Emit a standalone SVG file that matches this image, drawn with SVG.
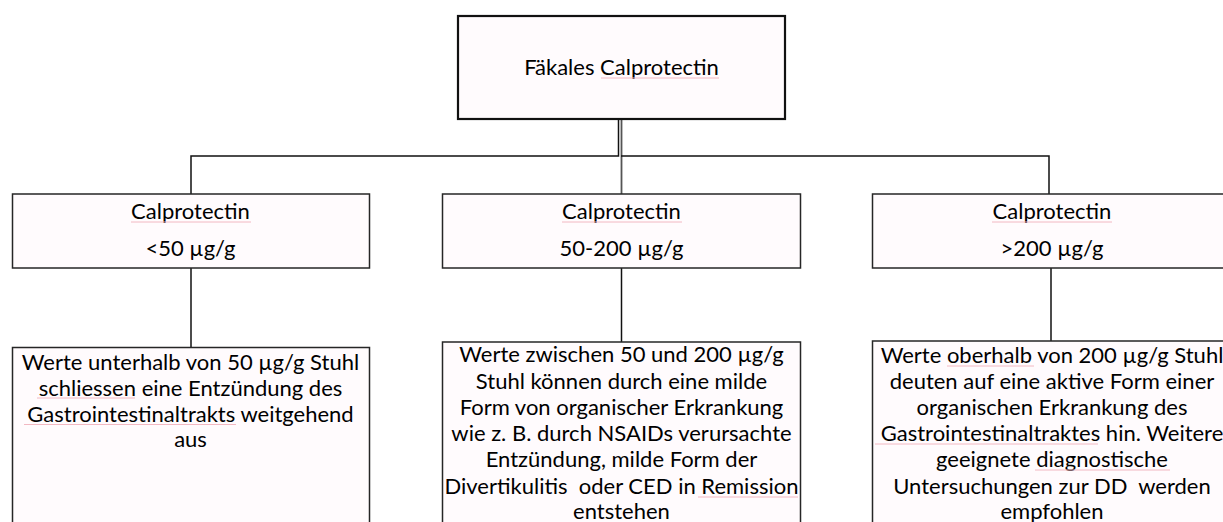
<svg xmlns="http://www.w3.org/2000/svg" width="1223" height="522" viewBox="0 0 1223 522">
<style>
.box{fill:#fffbfd;stroke:#262626;stroke-width:1.5}
.top{fill:#fffbfd;stroke:#111;stroke-width:2.2}
.t{font-family:Lato,"Liberation Sans",sans-serif;font-size:22px;fill:#000;text-anchor:middle}
.c{fill:none;stroke:#111;stroke-width:1.5}
.cg{fill:none;stroke:#555;stroke-width:1.8}
.sp{fill:none;stroke:#f2b8c2;stroke-width:1}
</style>
<rect width="1223" height="522" fill="#fff"/>
<g id="connectors">
<path class="c" d="M618.5 120 V156 H191 V194"/>
<path class="cg" d="M621.5 120 V194"/>
<path class="c" d="M621 156 H1049 V194"/>
<path class="c" d="M191 268 V347.5"/>
<path class="c" d="M621.5 268 V342"/>
<path class="c" d="M1051 268 V341"/>
</g>
<g id="root">
<rect class="top" x="458" y="16" width="327" height="103"/>
<text class="t" x="621.5" y="75">Fäkales Calprotectin</text>
</g>
<g id="low">
<rect class="box" x="12.5" y="194" width="357" height="74"/>
<text class="t" x="190.5" y="219">Calprotectin</text>
<text class="t" x="190.5" y="256">&lt;50 µg/g</text>
</g>
<g id="mid">
<rect class="box" x="442.5" y="194" width="358" height="74"/>
<text class="t" x="621.5" y="219">Calprotectin</text>
<text class="t" x="621.5" y="256">50-200 µg/g</text>
</g>
<g id="high">
<rect class="box" x="872.5" y="194" width="360" height="74"/>
<text class="t" x="1052" y="219">Calprotectin</text>
<text class="t" x="1052" y="256">&gt;200 µg/g</text>
</g>
<g id="low-text">
<rect class="box" x="12.5" y="347.5" width="357" height="200"/>
<text class="t" x="190.5" y="369.5">Werte unterhalb von 50 µg/g Stuhl</text>
<text class="t" x="190.5" y="395.5">schliessen eine Entzündung des</text>
<text class="t" x="190.5" y="421.5">Gastrointestinaltrakts weitgehend</text>
<text class="t" x="190.5" y="447">aus</text>
</g>
<g id="mid-text">
<rect class="box" x="442.5" y="342" width="358" height="200"/>
<text class="t" x="621.5" y="362">Werte zwischen 50 und 200 µg/g</text>
<text class="t" x="621.5" y="388.5">Stuhl können durch eine milde</text>
<text class="t" x="621.5" y="414.5">Form von organischer Erkrankung</text>
<text class="t" x="621.5" y="441">wie z. B. durch NSAIDs verursachte</text>
<text class="t" x="621.5" y="467">Entzündung, milde Form der</text>
<text class="t" x="621.5" y="493.5" xml:space="preserve">Divertikulitis  oder CED in Remission</text>
<text class="t" x="621.5" y="519">entstehen</text>
</g>
<g id="high-text">
<rect class="box" x="872.5" y="341" width="360" height="200"/>
<text class="t" x="1052" y="362.5">Werte oberhalb von 200 µg/g Stuhl</text>
<text class="t" x="1052" y="388.5">deuten auf eine aktive Form einer</text>
<text class="t" x="1052" y="415">organischen Erkrankung des</text>
<text class="t" x="1052" y="441">Gastrointestinaltraktes hin. Weitere</text>
<text class="t" x="1052" y="467">geeignete diagnostische</text>
<text class="t" x="1052" y="494" xml:space="preserve">Untersuchungen zur DD  werden</text>
<text class="t" x="1052" y="519">empfohlen</text>
</g>
<g id="spellcheck">
<path class="sp" d="M601 78H719"/>
<path class="sp" d="M131 222H251"/>
<path class="sp" d="M562 222H682"/>
<path class="sp" d="M992 222H1112"/>
<path class="sp" d="M37 398H135"/>
<path class="sp" d="M24 424.5H236"/>
<path class="sp" d="M698 497H798"/>
<path class="sp" d="M947 366H1034"/>
<path class="sp" d="M875 444H1098"/>
<path class="sp" d="M1035 470H1170"/>
</g>
</svg>
